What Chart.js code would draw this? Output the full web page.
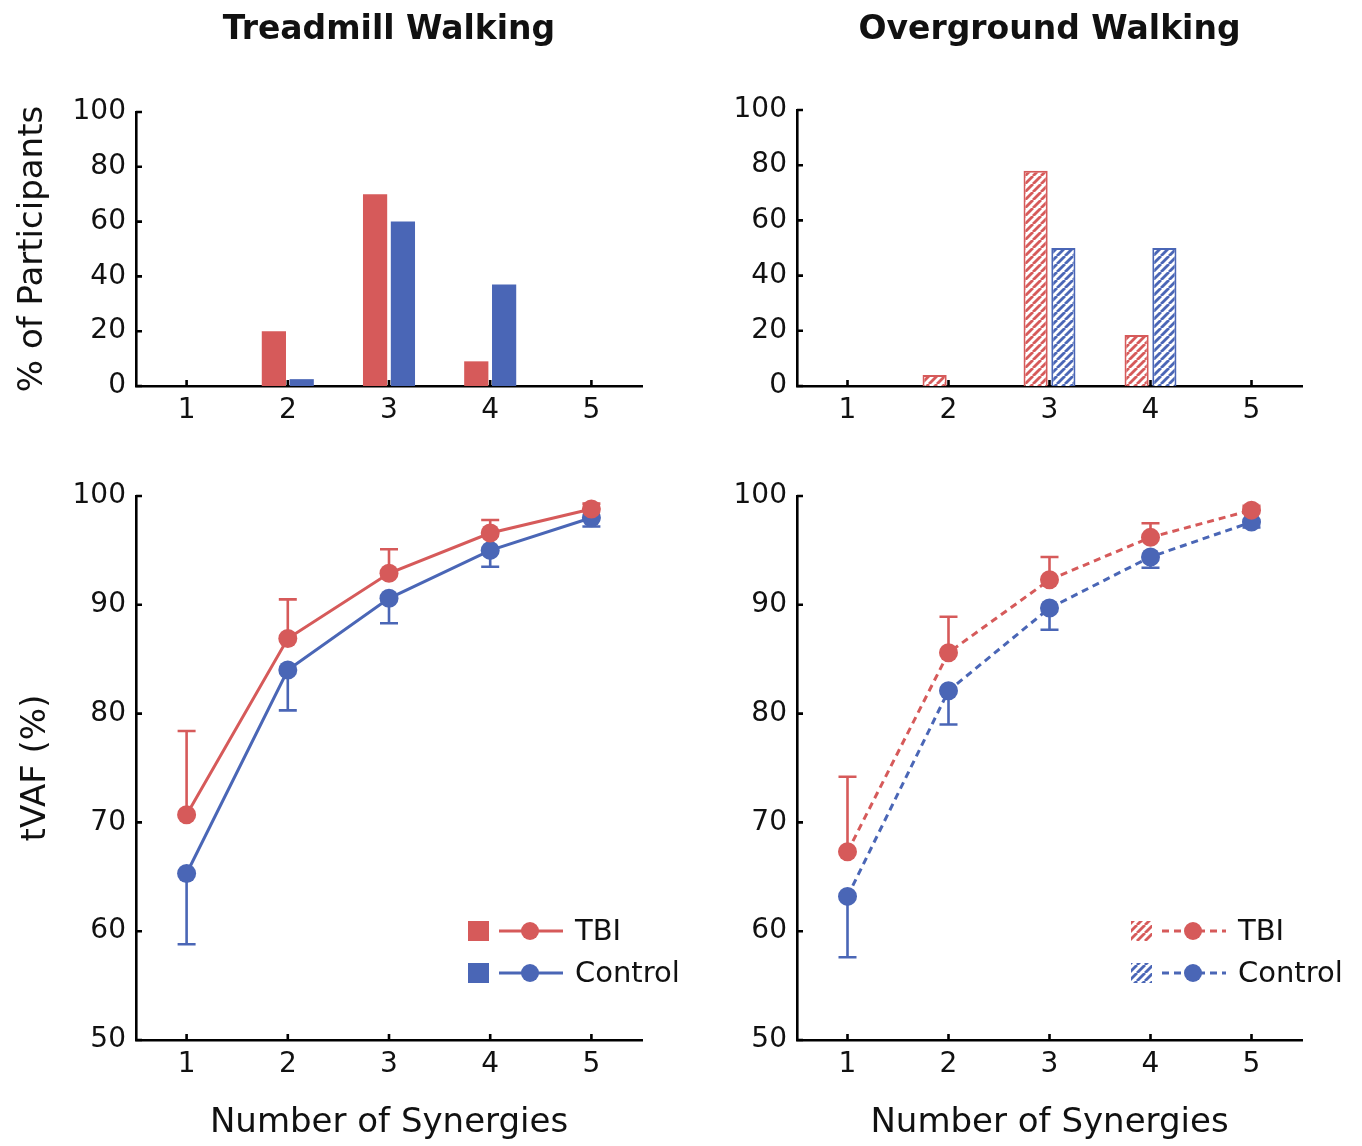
<!DOCTYPE html>
<html>
<head>
<meta charset="utf-8">
<script src="https://cdn.jsdelivr.net/npm/chart.js@4.4.1/dist/chart.umd.min.js"></script>
<style>
  html, body { margin: 0; padding: 0; background: #fff; }
  #wrap { position: relative; width: 1362px; height: 1146px; overflow: hidden; }
  .panel { position: absolute; }
  .panel canvas { display: block; }
</style>
</head>
<body>
<div id="wrap">
  <div class="panel" style="left:0;top:0;width:681px;height:445px"><canvas id="barTread"></canvas></div>
  <div class="panel" style="left:681px;top:0;width:681px;height:445px"><canvas id="barOver"></canvas></div>
  <div class="panel" style="left:0;top:445px;width:681px;height:701px"><canvas id="vafTread"></canvas></div>
  <div class="panel" style="left:681px;top:445px;width:681px;height:701px"><canvas id="vafOver"></canvas></div>
</div>
<script>
// categories
const synergies = ['1', '2', '3', '4', '5'];

// % of participants (top row)
const treadTbiPct = [0, 20, 70, 9, 0];
const treadCtrlPct = [0, 2.5, 60, 37, 0];
const overTbiPct = [0, 4, 78, 18.5, 0];
const overCtrlPct = [0, 0, 50, 50, 0];

// tVAF means and one-sided SD (bottom row)
const treadTbiVaf = [70.7, 86.9, 92.9, 96.6, 98.8];
const treadTbiSd = [7.7, 3.6, 2.2, 1.2, 0.5];
const treadCtrlVaf = [65.3, 84.0, 90.6, 95.0, 98.0];
const treadCtrlSd = [6.5, 3.7, 2.3, 1.5, 0.8];
const overTbiVaf = [67.3, 85.6, 92.3, 96.2, 98.7];
const overTbiSd = [6.9, 3.3, 2.1, 1.3, 0.4];
const overCtrlVaf = [63.2, 82.1, 89.7, 94.4, 97.6];
const overCtrlSd = [5.6, 3.1, 2.0, 1.0, 0.5];

const FONT = "'DejaVu Sans', sans-serif";
const TEXT = '#111';
const RED = '#d65a5a';
const BLUE = '#4a66b6';

function makeHatch(color) {
    const s = 8;
    const c = document.createElement('canvas');
    c.width = s; c.height = s;
    const g = c.getContext('2d');
    g.fillStyle = '#fff';
    g.fillRect(0, 0, s, s);
    g.strokeStyle = color;
    g.lineWidth = 2.8;
    for (const k of [-s, 0, s]) {
        g.beginPath();
        g.moveTo(k, s);
        g.lineTo(k + s, 0);
        g.stroke();
    }
    return g.createPattern(c, 'repeat');
}
const hatchRed = makeHatch(RED);
const hatchBlue = makeHatch(BLUE);

// MATLAB style ticks pointing into the plot
const inTicks = {
    id: 'inTicks',
    afterDatasetsDraw(chart) {
        const ctx = chart.ctx;
        const area = chart.chartArea;
        const x = chart.scales.x, y = chart.scales.y;
        ctx.save();
        ctx.strokeStyle = '#000';
        ctx.lineWidth = 2.6;
        ctx.beginPath();
        x.ticks.forEach((t, i) => {
            const px = x.getPixelForTick(i);
            ctx.moveTo(px, area.bottom);
            ctx.lineTo(px, area.bottom - 6);
        });
        y.ticks.forEach((t, i) => {
            const py = y.getPixelForTick(i);
            ctx.moveTo(area.left, py);
            ctx.lineTo(area.left + 6, py);
        });
        ctx.stroke();
        ctx.restore();
    }
};

// one-sided error bars: TBI up, Control down
const errorBars = {
    id: 'errorBars',
    beforeDatasetsDraw(chart) {
        const ctx = chart.ctx;
        const y = chart.scales.y;
        chart.data.datasets.forEach((ds, di) => {
            if (!ds.errors) return;
            const meta = chart.getDatasetMeta(di);
            ctx.save();
            ctx.strokeStyle = ds.borderColor;
            ctx.lineWidth = 2.6;
            meta.data.forEach((pt, i) => {
                const y0 = y.getPixelForValue(ds.data[i]);
                const y1 = y.getPixelForValue(ds.data[i] + ds.errDir * ds.errors[i]);
                ctx.beginPath();
                ctx.moveTo(pt.x, y0);
                ctx.lineTo(pt.x, y1);
                ctx.moveTo(pt.x - 9, y1);
                ctx.lineTo(pt.x + 9, y1);
                ctx.stroke();
            });
            ctx.restore();
        });
    }
};

// legend: bar swatch + line with dot + label
const comboLegend = {
    id: 'comboLegend',
    afterDraw(chart, args, opts) {
        if (!opts || !opts.rows) return;
        const ctx = chart.ctx;
        ctx.save();
        opts.rows.forEach(r => {
            const x = opts.x;
            ctx.fillStyle = r.swatch;
            ctx.fillRect(x, r.y - 10, 21, 20);
            ctx.strokeStyle = r.color;
            ctx.lineWidth = 3;
            ctx.setLineDash(opts.dashed ? [7, 5] : []);
            ctx.beginPath();
            ctx.moveTo(x + 31, r.y);
            ctx.lineTo(x + 95, r.y);
            ctx.stroke();
            ctx.setLineDash([]);
            ctx.fillStyle = r.color;
            ctx.beginPath();
            ctx.arc(x + 62, r.y, 9, 0, Math.PI * 2);
            ctx.fill();
            ctx.fillStyle = TEXT;
            ctx.font = '29px ' + FONT;
            ctx.textBaseline = 'middle';
            ctx.textAlign = 'left';
            ctx.fillText(r.label, x + 107, r.y + 1);
        });
        ctx.restore();
    }
};

function axisLook() {
    return {
        border: { display: true, color: '#000', width: 2.6 },
        grid: { display: false, drawTicks: false },
    };
}

function xScale(height, withTitle) {
    return {
        type: 'category',
        offset: true,
        ...axisLook(),
        ticks: { color: TEXT, font: { family: FONT, size: 28 }, padding: 8, maxRotation: 0, autoSkip: false },
        title: { display: withTitle, text: 'Number of Synergies', color: TEXT,
                 font: { family: FONT, size: 34 }, padding: { top: 0, bottom: 2.6 } },
        afterFit: s => { s.height = height; },
    };
}

function yScale(min, max, step, width, titleText, titleX) {
    return {
        min, max,
        ...axisLook(),
        ticks: { stepSize: step, color: TEXT, font: { family: FONT, size: 28 }, padding: 10 },
        title: { display: !!titleText, text: titleText || '', color: TEXT,
                 font: { family: FONT, size: 34 }, padding: { top: titleX - 20.4, bottom: 0 } },
        afterFit: s => { s.width = width; },
    };
}

function barChart(id, tbi, ctrl, hatched, cfg) {
    return new Chart(document.getElementById(id), {
        type: 'bar',
        data: {
            labels: synergies,
            datasets: [
                { label: 'TBI', data: tbi, backgroundColor: hatched ? hatchRed : RED,
                  borderColor: RED, borderWidth: hatched ? 2 : 0 },
                { label: 'Control', data: ctrl, backgroundColor: hatched ? hatchBlue : BLUE,
                  borderColor: BLUE, borderWidth: hatched ? 2 : 0 },
            ],
        },
        options: {
            responsive: true,
            maintainAspectRatio: false,
            animation: false,
            categoryPercentage: 0.55,
            barPercentage: 0.87,
            layout: { padding: { left: 0, right: cfg.right, top: 0, bottom: 0 } },
            scales: {
                x: xScale(445 - cfg.bottom, false),
                y: yScale(0, 100, 20, cfg.yWidth, cfg.yTitle, 33),
            },
            plugins: {
                legend: { display: false },
                tooltip: { enabled: false },
                title: { display: true, text: cfg.title, fullSize: false, color: TEXT,
                         font: { family: FONT, size: 33, weight: 'bold' },
                         padding: { top: 10.2, bottom: cfg.top - 39.6 - 10.2 } },
            },
        },
        plugins: [inTicks],
    });
}

function vafChart(id, tbi, tbiSd, ctrl, ctrlSd, dashed, cfg) {
    const dash = dashed ? [7, 5] : [];
    return new Chart(document.getElementById(id), {
        type: 'line',
        data: {
            labels: synergies,
            datasets: [
                { label: 'TBI', data: tbi, errors: tbiSd, errDir: 1, borderColor: RED, backgroundColor: RED,
                  pointBackgroundColor: RED, pointBorderWidth: 0, pointRadius: 9.5, borderWidth: 3,
                  borderDash: dash, clip: false },
                { label: 'Control', data: ctrl, errors: ctrlSd, errDir: -1, borderColor: BLUE, backgroundColor: BLUE,
                  pointBackgroundColor: BLUE, pointBorderWidth: 0, pointRadius: 9.5, borderWidth: 3,
                  borderDash: dash, clip: false },
            ],
        },
        options: {
            responsive: true,
            maintainAspectRatio: false,
            animation: false,
            layout: { padding: { left: 0, right: cfg.right, top: 51, bottom: 0 } },
            scales: {
                x: xScale(106, true),
                y: yScale(50, 100, 10, cfg.yWidth, cfg.yTitle, 36),
            },
            plugins: {
                legend: { display: false },
                tooltip: { enabled: false },
                comboLegend: {
                    x: cfg.legendX,
                    dashed,
                    rows: [
                        { y: 486, label: 'TBI', color: RED, swatch: dashed ? hatchRed : RED },
                        { y: 528, label: 'Control', color: BLUE, swatch: dashed ? hatchBlue : BLUE },
                    ],
                },
            },
        },
        plugins: [errorBars, inTicks, comboLegend],
    });
}

barChart('barTread', treadTbiPct, treadCtrlPct, false,
    { title: 'Treadmill Walking', yTitle: '% of Participants', yWidth: 136, right: 39, top: 112, bottom: 386 });
barChart('barOver', overTbiPct, overCtrlPct, true,
    { title: 'Overground Walking', yTitle: null, yWidth: 116, right: 60, top: 110, bottom: 386 });
vafChart('vafTread', treadTbiVaf, treadTbiSd, treadCtrlVaf, treadCtrlSd, false,
    { yTitle: 'tVAF (%)', yWidth: 136, right: 39, legendX: 468 });
vafChart('vafOver', overTbiVaf, overTbiSd, overCtrlVaf, overCtrlSd, true,
    { yTitle: null, yWidth: 116, right: 60, legendX: 450 });
</script>
</body>
</html>
